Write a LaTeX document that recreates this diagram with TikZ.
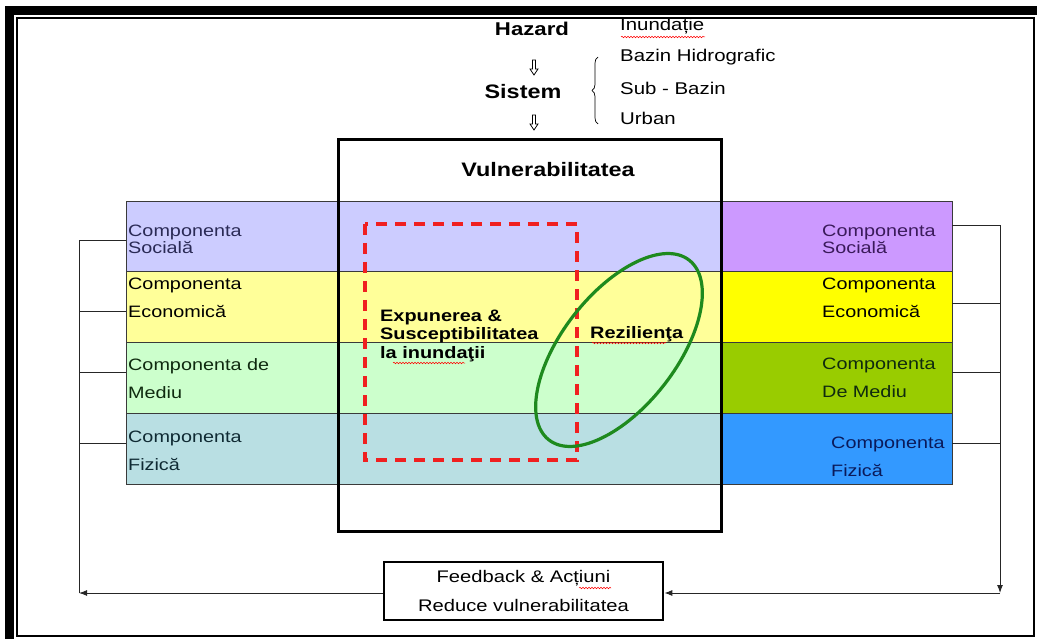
\documentclass[tikz,border=0pt]{standalone}
\usepackage{fontspec}
\setmainfont{Liberation Sans}
\newfontfamily\wide{Liberation Sans}[FakeStretch=1.2]
\usetikzlibrary{decorations.pathreplacing,decorations.pathmorphing,arrows.meta}

\definecolor{socL}{HTML}{CCCCFF}
\definecolor{ecoL}{HTML}{FFFF99}
\definecolor{medL}{HTML}{CCFFCC}
\definecolor{fizL}{HTML}{B9DFE3}
\definecolor{socR}{HTML}{CC99FF}
\definecolor{ecoR}{HTML}{FFFF00}
\definecolor{medR}{HTML}{99CC00}
\definecolor{fizR}{HTML}{3399FF}
\definecolor{bandline}{HTML}{3A3A3A}
\definecolor{resil}{HTML}{1E8A1E}
\definecolor{expo}{HTML}{F02020}
\definecolor{txtsoc}{HTML}{2A2A55}
\definecolor{txtsocR}{HTML}{3A1A5A}
\definecolor{txtmed}{HTML}{0F2A0F}
\definecolor{txtfiz}{HTML}{0F2A33}
\definecolor{txtfizR}{HTML}{0A1A5A}

\begin{document}
\begin{tikzpicture}[x=1pt,y=-1pt,
  band/.style={draw=bandline, line width=0.9pt, inner sep=0pt, outer sep=0pt,
    minimum height=70.75pt, anchor=north west},
  bandL/.style={band, minimum width=594pt},
  bandR/.style={band, minimum width=232pt},
  comp/.style={align=left, inner sep=0pt, font=\wide\fontsize{16.5}{17}\selectfont},
  conn/.style={draw=black!85, line width=1pt},
  tip/.style={-{Latex[length=8pt,width=6pt]}},
  plain/.style={inner sep=0pt, font=\wide\fontsize{17}{20}\selectfont, anchor=west},
  boldlbl/.style={inner sep=0pt, font=\wide\bfseries\fontsize{16.6}{18.5}\selectfont},
  spell/.style={draw=red, line width=0.5pt, decorate,
    decoration={snake, amplitude=0.8pt, segment length=3pt}},
  hollowarrow/.style={draw=black, line width=0.8pt, fill=white}
]
\useasboundingbox (0,0) rectangle (1037,639);

% page frame: heavy shadow bars on top and left, thin rule all round
\fill[black] (5,6.5) rectangle (1037,15);
\fill[black] (5,6.5) rectangle (13.5,639);
\draw[line width=2pt] (17,18) rectangle (1034,636);

% top: hazard and system
\node[inner sep=0pt, font=\wide\bfseries\fontsize{18.5}{20}\selectfont] (hazard) at (532,29) {Hazard};
\node[plain] (inund) at (620,26) {Inundație};
\draw[spell] (621,37) -- (705,37);

\path[hollowarrow] (532.5,60) -- (535.5,60) -- (535.5,69) -- (538,69) -- (534,75)
  -- (530,69) -- (532.5,69) -- cycle;
\node[inner sep=0pt, font=\wide\bfseries\fontsize{19.5}{20}\selectfont] (sistem) at (523,92) {Sistem};
\path[hollowarrow] (532.5,115) -- (535.5,115) -- (535.5,124) -- (538,124) -- (534,130)
  -- (530,124) -- (532.5,124) -- cycle;

\draw[decorate, decoration={brace, amplitude=6pt}, line width=0.7pt] (598,124) -- (598,57);
\node[plain] (bazin) at (620,57) {Bazin Hidrografic};
\node[plain] (subbazin) at (620,88) {Sub - Bazin};
\node[plain] (urban) at (620,118) {Urban};

% component bands, left side (running under the vulnerability box)
\node[bandL, fill=socL] (socL) at (126,201) {};
\node[bandL, fill=ecoL] (ecoL) at (126,271.75) {};
\node[bandL, fill=medL] (medL) at (126,342.5) {};
\node[bandL, fill=fizL] (fizL) at (126,413.25) {};

% component bands, right side
\node[bandR, fill=socR] (socR) at (720,201) {};
\node[bandR, fill=ecoR] (ecoR) at (720,271.75) {};
\node[bandR, fill=medR] (medR) at (720,342.5) {};
\node[bandR, fill=fizR] (fizR) at (720,413.25) {};

% band labels
\node[comp, anchor=west, text=txtsoc] (tSocL) at (128,239) {Componenta\\Socială};
\node[comp, anchor=west] (tEcoL) at (128,298) {Componenta\\[11pt]Economică};
\node[comp, anchor=west, text=txtmed] (tMedL) at (128,379) {Componenta de\\[11pt]Mediu};
\node[comp, anchor=west, text=txtfiz] (tFizL) at (128,450.5) {Componenta\\[11pt]Fizică};

\node[comp, anchor=west, text=txtsocR] (tSocR) at (822,239.5) {Componenta\\Socială};
\node[comp, anchor=west] (tEcoR) at (822,298) {Componenta\\[11pt]Economică};
\node[comp, anchor=west, text=txtmed] (tMedR) at (822,378) {Componenta\\[11pt]De Mediu};
\node[comp, anchor=west, text=txtfizR] (tFizR) at (831,457) {Componenta\\[11pt]Fizică};

% vulnerability frame
\node[draw=black, line width=3pt, minimum width=383pt, minimum height=392pt,
  inner sep=0pt, anchor=north west] (vuln) at (337,138) {};
\node[inner sep=0pt, font=\wide\bfseries\fontsize{19.5}{22}\selectfont] (vulnT) at (548,170) {Vulnerabilitatea};

% exposure & susceptibility (dashed) and resilience (ellipse)
\draw[expo, line width=3.4pt, dash pattern=on 11pt off 8pt] (365,224) rectangle (577,460);
\draw[resil, line width=3.2pt, rotate around={52:(619,350)}] (619,350) ellipse [x radius=114, y radius=57];

\node[boldlbl, align=left, anchor=west] (expT) at (380,335.5) {Expunerea \&\\Susceptibilitatea\\la inundaţii};
\draw[spell] (393,363) -- (465,363);
\node[boldlbl, anchor=west] (rezT) at (590,334) {Rezilienţa};
\draw[spell] (592,343) -- (666,343);

% feedback box
\node[draw=black, line width=2.6pt, minimum width=279pt, minimum height=58pt, inner sep=0pt,
  align=center, font=\wide\fontsize{16.8}{29}\selectfont] (fb) at (523.5,591)
  {Feedback \& Acțiuni\\Reduce vulnerabilitatea};
\draw[spell] (579,588) -- (611,588);

% feedback loop, left
\coordinate (lc) at (79,593);
\draw[conn] ([yshift=-4pt]socL.west) -- ++(-47,0) -- (lc);
\draw[conn] ([yshift=-4pt]ecoL.west) -- ++(-47,0);
\draw[conn] ([yshift=5pt]medL.west) -- ++(-47,0);
\draw[conn] ([yshift=5pt]fizL.west) -- ++(-47,0);
\draw[conn, tip] ([yshift=-2pt]fb.west) -- (lc);

% feedback loop, right
\coordinate (rc) at (1000,593);
\draw[conn, tip] ([yshift=11pt]socR.east) -- ++(48,0) -- (rc);
\draw[conn] ([yshift=4pt]ecoR.east) -- ++(48,0);
\draw[conn] ([yshift=5pt]medR.east) -- ++(48,0);
\draw[conn] ([yshift=5pt]fizR.east) -- ++(48,0);
\draw[conn, tip] (rc) -- ([yshift=-2pt]fb.east);
\end{tikzpicture}
\end{document}
